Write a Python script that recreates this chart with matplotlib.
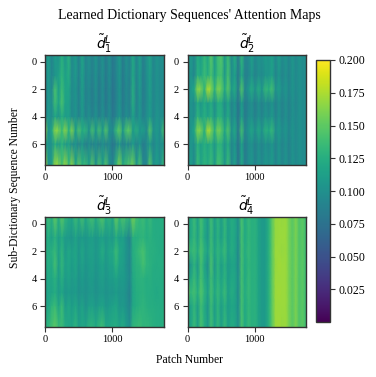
import numpy as np
import matplotlib
matplotlib.use('Agg')
import matplotlib.pyplot as plt

plt.rcParams['font.family'] = ['Liberation Serif', 'DejaVu Serif']

# attention values (x 1000), one row per sub-dictionary sequence
map_1 = [
    [94, 112, 92, 110, 100, 126, 104, 128, 96, 110, 88, 116, 92, 100, 88, 104, 86, 102, 84, 100, 82, 92, 108, 84, 100, 90, 120, 92, 112, 86, 100, 116, 92, 104, 98, 100],
    [92, 108, 92, 104, 112, 130, 112, 124, 94, 108, 88, 114, 90, 98, 86, 102, 84, 100, 82, 98, 80, 90, 106, 82, 98, 88, 120, 90, 110, 84, 98, 112, 92, 102, 96, 98],
    [90, 106, 94, 142, 110, 136, 116, 118, 96, 104, 86, 112, 88, 96, 84, 100, 82, 98, 80, 96, 78, 88, 104, 82, 96, 86, 124, 88, 108, 84, 96, 112, 92, 102, 96, 98],
    [88, 106, 98, 138, 114, 142, 114, 116, 94, 104, 88, 110, 88, 96, 84, 98, 82, 98, 80, 96, 78, 88, 104, 82, 96, 86, 124, 88, 106, 84, 96, 110, 92, 102, 96, 98],
    [94, 106, 96, 118, 102, 124, 108, 114, 94, 104, 88, 108, 88, 100, 86, 102, 84, 100, 84, 98, 80, 90, 106, 84, 98, 88, 114, 90, 106, 86, 98, 110, 92, 104, 98, 100],
    [168, 100, 118, 166, 160, 136, 166, 128, 162, 110, 144, 122, 130, 100, 142, 104, 140, 106, 146, 100, 96, 134, 152, 108, 144, 150, 108, 126, 106, 112, 94, 146, 100, 108, 98, 140],
    [112, 102, 100, 122, 106, 126, 106, 112, 94, 102, 86, 104, 84, 96, 86, 96, 84, 98, 86, 96, 78, 88, 104, 84, 96, 88, 108, 86, 104, 82, 94, 108, 90, 104, 96, 104],
    [178, 100, 112, 170, 162, 140, 170, 134, 166, 114, 150, 128, 136, 112, 148, 100, 142, 110, 146, 98, 90, 130, 162, 122, 138, 146, 156, 106, 142, 94, 92, 148, 100, 112, 98, 134],
]
map_2 = [
    [96, 108, 94, 122, 112, 132, 118, 148, 108, 138, 146, 108, 136, 96, 124, 84, 132, 92, 96, 112, 94, 104, 100, 110, 104, 114, 94, 112, 96, 104, 92, 106, 94, 104, 96, 100],
    [94, 104, 92, 126, 118, 136, 122, 142, 112, 136, 140, 106, 140, 98, 114, 80, 120, 86, 90, 106, 88, 100, 94, 104, 104, 114, 90, 106, 90, 102, 90, 104, 94, 102, 96, 98],
    [92, 108, 118, 166, 160, 128, 178, 164, 128, 162, 152, 120, 148, 108, 122, 84, 146, 92, 106, 122, 100, 124, 104, 134, 126, 140, 100, 112, 96, 106, 92, 104, 94, 102, 96, 98],
    [90, 104, 96, 122, 106, 122, 108, 124, 98, 122, 122, 96, 118, 90, 104, 76, 110, 82, 92, 100, 84, 100, 88, 100, 92, 104, 86, 102, 88, 100, 88, 102, 92, 102, 96, 98],
    [90, 104, 98, 130, 112, 126, 114, 128, 102, 126, 126, 100, 122, 92, 106, 76, 114, 82, 96, 102, 86, 102, 90, 104, 96, 108, 88, 104, 88, 102, 88, 102, 94, 102, 96, 98],
    [92, 106, 118, 164, 158, 124, 176, 162, 126, 160, 150, 118, 146, 102, 120, 80, 140, 90, 104, 118, 98, 120, 102, 128, 120, 134, 98, 110, 96, 106, 92, 104, 94, 102, 96, 98],
    [92, 106, 98, 128, 112, 126, 116, 128, 104, 128, 128, 100, 124, 92, 106, 76, 114, 82, 96, 102, 86, 100, 90, 102, 94, 106, 88, 104, 90, 102, 88, 102, 94, 102, 96, 98],
    [94, 112, 94, 136, 116, 130, 122, 136, 108, 142, 134, 106, 136, 94, 114, 76, 120, 84, 98, 106, 88, 104, 94, 106, 100, 110, 90, 106, 92, 104, 90, 104, 94, 102, 96, 98],
]
map_3 = [
    [120, 138, 126, 152, 124, 150, 132, 122, 118, 138, 122, 142, 120, 134, 142, 122, 138, 148, 124, 132, 118, 154, 132, 146, 136, 128, 160, 140, 132, 138, 126, 134, 124, 122, 124, 126],
    [116, 124, 112, 128, 110, 122, 108, 108, 104, 116, 104, 110, 104, 110, 112, 104, 110, 114, 106, 112, 106, 122, 110, 114, 102, 90, 126, 124, 128, 130, 124, 128, 124, 122, 122, 124],
    [126, 122, 126, 134, 112, 130, 108, 120, 112, 118, 106, 118, 106, 112, 114, 106, 112, 124, 108, 118, 118, 136, 118, 114, 104, 94, 124, 130, 136, 142, 130, 126, 126, 124, 122, 124],
    [118, 124, 120, 140, 110, 132, 112, 118, 110, 118, 104, 114, 104, 110, 112, 104, 110, 116, 106, 114, 114, 130, 114, 112, 102, 92, 122, 128, 130, 140, 130, 128, 124, 122, 124, 124],
    [114, 120, 118, 128, 110, 126, 108, 116, 108, 114, 102, 110, 102, 108, 110, 102, 108, 112, 104, 110, 110, 116, 108, 110, 104, 94, 120, 126, 128, 128, 124, 126, 122, 122, 122, 124],
    [114, 116, 116, 124, 108, 118, 104, 110, 106, 110, 100, 106, 100, 106, 108, 100, 106, 108, 102, 106, 104, 110, 104, 106, 100, 88, 118, 124, 126, 128, 124, 124, 122, 120, 122, 122],
    [122, 116, 130, 136, 116, 136, 110, 120, 110, 120, 106, 116, 102, 112, 114, 106, 112, 116, 106, 110, 114, 118, 106, 108, 102, 92, 120, 124, 128, 130, 126, 124, 124, 122, 122, 124],
    [126, 130, 140, 150, 134, 136, 122, 118, 118, 130, 112, 120, 116, 128, 130, 120, 132, 138, 118, 120, 122, 124, 116, 122, 110, 98, 132, 134, 136, 130, 132, 130, 126, 124, 124, 126],
]
map_4 = [
    [128, 118, 136, 114, 140, 124, 108, 138, 112, 130, 112, 134, 112, 124, 120, 100, 142, 120, 134, 126, 128, 116, 108, 110, 126, 150, 168, 170, 168, 170, 158, 148, 160, 144, 150, 136],
    [128, 118, 134, 112, 138, 120, 104, 136, 110, 128, 110, 132, 110, 122, 118, 98, 140, 120, 132, 126, 128, 116, 108, 110, 126, 150, 168, 170, 170, 170, 158, 148, 160, 144, 150, 136],
    [156, 130, 138, 122, 144, 128, 114, 138, 116, 132, 122, 136, 112, 124, 118, 94, 140, 122, 134, 126, 128, 116, 108, 110, 126, 150, 170, 170, 168, 170, 158, 148, 160, 144, 150, 136],
    [100, 106, 130, 106, 140, 118, 98, 142, 106, 130, 110, 128, 108, 116, 116, 94, 140, 120, 132, 126, 128, 116, 108, 110, 126, 150, 168, 172, 170, 170, 158, 148, 160, 144, 150, 136],
    [128, 118, 136, 114, 142, 122, 108, 138, 112, 130, 114, 130, 110, 120, 118, 98, 140, 120, 134, 126, 128, 116, 108, 110, 126, 150, 170, 170, 170, 170, 158, 148, 160, 144, 150, 136],
    [158, 132, 140, 124, 146, 130, 112, 140, 118, 134, 120, 136, 112, 124, 118, 96, 140, 122, 134, 126, 128, 116, 108, 110, 126, 150, 170, 172, 170, 170, 158, 148, 160, 144, 150, 136],
    [120, 114, 132, 110, 138, 122, 104, 136, 110, 130, 110, 128, 110, 118, 116, 98, 140, 120, 132, 126, 128, 116, 108, 110, 126, 150, 170, 170, 170, 170, 158, 148, 160, 144, 150, 136],
    [126, 116, 136, 112, 142, 124, 108, 138, 114, 132, 112, 134, 112, 124, 120, 100, 142, 120, 134, 126, 128, 116, 108, 110, 126, 150, 170, 172, 168, 170, 158, 148, 160, 144, 150, 136],
]

panel_titles = [r'$\tilde{d}_1^L$', r'$\tilde{d}_2^L$', r'$\tilde{d}_3^L$', r'$\tilde{d}_4^L$']
maps = [map_1, map_2, map_3, map_4]
x_ticks = [0, 1000]
y_ticks = [0, 2, 4, 6]
cbar_ticks = [0.025, 0.05, 0.075, 0.1, 0.125, 0.15, 0.175, 0.2]
n_patches = 1760
row_pos = [-0.5, 1, 2, 3, 4, 5, 6, 7.5]

W, H = 376, 377
fig = plt.figure(figsize=(W / 100, H / 100), dpi=100)

# axes boxes in pixels: left, top, right, bottom
boxes = [(45, 55, 163.5, 165), (187.5, 55, 306, 165), (45, 217, 163.5, 327), (187.5, 217, 306, 327)]
edge = '#333333'

for box, data, title in zip(boxes, maps, panel_titles):
    ax = fig.add_axes([box[0] / W, 1 - box[3] / H, (box[2] - box[0]) / W, (box[3] - box[1]) / H])
    values = np.array(data) / 1000
    # gouraud keeps the column stripes narrow, imshow's filter smeared them
    col_pos = np.linspace(0, n_patches, values.shape[1])
    mesh = ax.pcolormesh(col_pos, row_pos, values, cmap='viridis', vmin=0, vmax=0.2, shading='gouraud')
    ax.set_xlim(0, n_patches)
    ax.set_ylim(7.5, -0.5)
    ax.set_xticks(x_ticks)
    ax.set_yticks(y_ticks)
    ax.tick_params(labelsize=7.5, length=3.5, width=0.8, color=edge, pad=2.5)
    ax.set_title(title, fontsize=10, pad=4)
    for spine in ax.spines.values():
        spine.set_color(edge)
        spine.set_linewidth(1.0)

cax = fig.add_axes([316 / W, 1 - 322 / H, 13.5 / W, 262 / H])
cbar = fig.colorbar(mesh, cax=cax)
cbar.set_ticks(cbar_ticks)
cbar.ax.set_yticklabels([f'{t:.3f}' for t in cbar_ticks])
cbar.ax.tick_params(labelsize=8.5, length=3.5, width=0.8, color=edge, pad=3)
cbar.outline.set_edgecolor(edge)
cbar.outline.set_linewidth(1.0)

fig.text(189 / W, 1 - 16 / H, "Learned Dictionary Sequences' Attention Maps", ha='center', va='center', fontsize=10)
fig.text(189 / W, 1 - 360 / H, 'Patch Number', ha='center', va='center', fontsize=8.4)
fig.text(15 / W, 1 - 188 / H, 'Sub-Dictionary Sequence Number', ha='center', va='center', rotation=90, fontsize=8.4)

fig.savefig('out.png', dpi=100)
